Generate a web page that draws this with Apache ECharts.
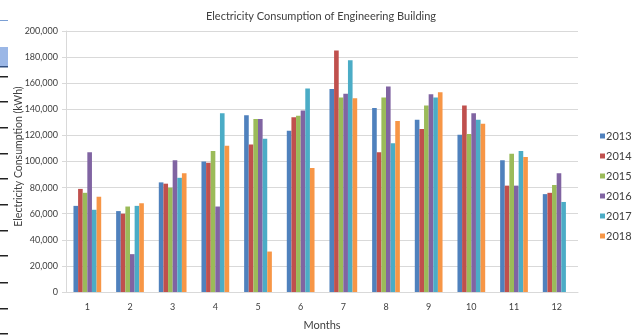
<!DOCTYPE html>
<html>
<head>
<meta charset="utf-8">
<script src="https://cdn.jsdelivr.net/npm/echarts@6/dist/echarts.min.js"></script>
<style>
  html, body { margin: 0; padding: 0; background: #fff; }
  #chart { width: 636px; height: 336px; }
</style>
</head>
<body>
<div id="chart"></div>
<script>
// Monthly electricity consumption (kWh) per year
const months = ['1', '2', '3', '4', '5', '6', '7', '8', '9', '10', '11', '12'];
const years = ['2013', '2014', '2015', '2016', '2017', '2018'];
const y2013 = [66000, 62000, 84000, 100000, 135500, 123500, 155500, 141000, 132000, 120500, 101000, 75000];
const y2014 = [79000, 60000, 83000, 99000, 113000, 134000, 185000, 107000, 125000, 143000, 81500, 76000];
const y2015 = [76000, 65500, 80000, 108000, 132500, 135000, 149000, 149000, 143000, 121000, 106000, 82000];
const y2016 = [107000, 29000, 101000, 65500, 132500, 139000, 152000, 157500, 151500, 137000, 81500, 91000];
const y2017 = [63000, 66000, 87500, 137000, 117500, 156000, 177500, 114000, 149000, 132000, 108000, 69000];
const y2018 = [73000, 68000, 91000, 112000, 31000, 95000, 148500, 131000, 153000, 129000, 103500, null];
const yTicks = [0, 20000, 40000, 60000, 80000, 100000, 120000, 140000, 160000, 180000, 200000];

const seriesValues = [y2013, y2014, y2015, y2016, y2017, y2018];
const colors = ['#4F81BD', '#C0504D', '#9BBB59', '#8064A2', '#4BACC6', '#F79646'];

const font = 'Lato, "Open Sans", sans-serif';
const chart = echarts.init(document.getElementById('chart'), null, { renderer: 'canvas' });

// Spreadsheet window edge strip on the far left
const edgeMarks = [];
[76, 101, 127, 153, 178, 204, 230, 255, 282, 308, 333].forEach(function (y) {
  edgeMarks.push({ type: 'rect', shape: { x: 0, y: y, width: 8, height: 1.5 }, style: { fill: '#222' }, silent: true });
});
edgeMarks.push({ type: 'rect', shape: { x: 0, y: 20, width: 8, height: 1 }, style: { fill: '#7b9fd4' }, silent: true });
edgeMarks.push({ type: 'rect', shape: { x: 0, y: 47, width: 8, height: 20 }, style: { fill: '#9bb7e6' }, silent: true });
edgeMarks.push({ type: 'rect', shape: { x: 0, y: 66, width: 8, height: 1.5 }, style: { fill: '#33507f' }, silent: true });

chart.setOption({
  animation: false,
  backgroundColor: '#fff',
  color: colors,
  title: {
    text: 'Electricity Consumption of Engineering Building',
    left: 316, top: 6, textAlign: 'center',
    textStyle: { fontFamily: font, fontSize: 11, fontWeight: 'normal', color: '#404040' }
  },
  legend: {
    orient: 'vertical',
    left: 595, top: 125,
    itemWidth: 5, itemHeight: 5, itemGap: 8,
    icon: 'rect',
    data: years,
    textStyle: { fontFamily: font, fontSize: 11, color: '#404040', padding: [0, 0, 0, -4], lineHeight: 12 }
  },
  grid: { left: 66, right: 58, top: 31, bottom: 39, containLabel: false },
  xAxis: {
    type: 'category',
    data: months,
    name: 'Months',
    nameLocation: 'middle',
    nameGap: 28,
    nameMoveOverlap: false,
    nameTextStyle: { fontFamily: font, fontSize: 11, color: '#404040' },
    axisLine: { lineStyle: { color: '#d9d9d9' } },
    axisTick: { show: false },
    axisLabel: { fontFamily: font, fontSize: 9, color: '#404040', margin: 11 }
  },
  yAxis: {
    type: 'value',
    min: yTicks[0], max: yTicks[yTicks.length - 1], interval: yTicks[1] - yTicks[0],
    name: 'Electricity Consumption (kWh)',
    nameLocation: 'middle',
    nameGap: 42,
    nameMoveOverlap: false,
    nameTextStyle: { fontFamily: font, fontSize: 10.5, color: '#404040', padding: [0, 0, 0, 10] },
    axisLine: { show: true, lineStyle: { color: '#d9d9d9' } },
    axisTick: { show: true, length: 4, lineStyle: { color: '#d9d9d9' } },
    splitLine: { lineStyle: { color: '#d9d9d9' } },
    axisLabel: {
      fontFamily: font, fontSize: 9, color: '#404040', margin: 8,
      formatter: function (v) { return v.toLocaleString('en-US'); }
    }
  },
  series: years.map(function (name, i) {
    return {
      name: name,
      type: 'bar',
      data: seriesValues[i],
      barGap: '0%',
      barCategoryGap: '35%',
      itemStyle: { color: colors[i] }
    };
  }),
  graphic: edgeMarks
});
</script>
</body>
</html>
